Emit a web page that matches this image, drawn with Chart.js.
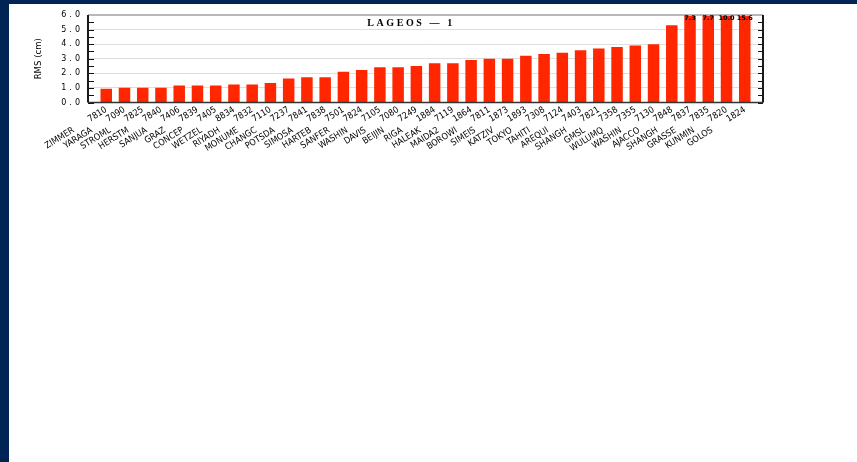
<!DOCTYPE html>
<html><head><meta charset="utf-8">
<script src="https://cdn.jsdelivr.net/npm/chart.js@4/dist/chart.umd.min.js"></script>
<style>
html,body{margin:0;padding:0;background:#002554;width:857px;height:462px;overflow:hidden}
#wrap{position:absolute;left:9px;top:4px;width:848px;height:458px;background:#fff}
canvas{display:block}
</style></head><body>
<div id="wrap"><canvas id="c" width="848" height="458"></canvas></div>
<script>
const stationIds = ['7810','7090','7825','7840','7406','7839','7405','8834','7832','7110',
  '7237','7841','7838','7501','7824','7105','7080','7249','1884','7119',
  '1864','7811','1873','1893','7308','7124','7403','7821','7358','7355',
  '7130','7848','7837','7835','7820','1824'];
const stationNames = ['ZIMMER','YARAGA','STROML','HERSTM','SANJUA','GRAZ','CONCEP','WETZEL','RIYADH','MONUME',
  'CHANGC','POTSDA','SIMOSA','HARTEB','SANFER','WASHIN','DAVIS','BEIJIN','RIGA','HALEAK',
  'MAIDA2','BOROWI','SIMEIS','KATZIV','TOKYO','TAHITI','AREQUI','SHANGH','GMSL','WULUMQ',
  'WASHIN','AJACCO','SHANGH','GRASSE','KUNMIN','GOLOS'];
const rmsValues = [0.95,1.02,1.02,1.02,1.16,1.16,1.16,1.23,1.23,1.34,
  1.64,1.73,1.73,2.11,2.23,2.41,2.41,2.50,2.70,2.70,
  2.91,3.00,3.00,3.20,3.32,3.41,3.59,3.70,3.80,3.91,
  4.00,5.30,7.3,7.7,10.0,15.6];
const yMin = 0, yMax = 6, yStep = 1;
const chartTitle = 'LAGEOS \u2014 1';
const yAxisTitle = 'RMS (cm)';

const NARROW = '"Liberation Sans Narrow","DejaVu Sans Condensed","Arial Narrow",sans-serif';
const GAP = '       ';
const xLabels = [''].concat(stationIds.map((id,i)=>stationNames[i]+GAP+id), ['']);
const yData = [null].concat(rmsValues, [null]);

const framePlugin = {
  id:'frame',
  afterDatasetsDraw(chart){
    const ctx = chart.ctx, a = chart.chartArea, y = chart.scales.y;
    ctx.save();
    ctx.strokeStyle = '#111'; ctx.lineWidth = 1;
    for (let v = yMin; v <= yMax + 1e-9; v += 0.5) {
      const py = Math.round(y.getPixelForValue(v)) + 0.5;
      ctx.beginPath();
      ctx.moveTo(a.left, py); ctx.lineTo(a.left + 6, py);
      ctx.moveTo(a.right, py); ctx.lineTo(a.right - 5, py);
      ctx.stroke();
    }
    ctx.lineWidth = 2;
    ctx.strokeStyle = '#b8b8b8';
    ctx.beginPath(); ctx.moveTo(a.left, a.top); ctx.lineTo(a.right, a.top); ctx.stroke();
    ctx.strokeStyle = '#1a1a1a';
    ctx.beginPath();
    ctx.moveTo(a.left, a.top); ctx.lineTo(a.left, a.bottom);
    ctx.moveTo(a.right, a.top); ctx.lineTo(a.right, a.bottom);
    ctx.stroke();
    ctx.lineWidth = 1.5; ctx.strokeStyle = '#333';
    ctx.beginPath(); ctx.moveTo(a.left, a.bottom); ctx.lineTo(a.right, a.bottom); ctx.stroke();
    ctx.restore();
    ctx.letterSpacing = '3px';
  },
  afterDraw(chart){
    const ctx = chart.ctx, a = chart.chartArea;
    ctx.letterSpacing = '0px';
    ctx.save();
    ctx.letterSpacing = '2.6px';
    ctx.font = 'bold 10px "Liberation Serif","Times New Roman",serif';
    ctx.fillStyle = '#000'; ctx.textAlign = 'center'; ctx.textBaseline = 'middle';
    ctx.fillText(chartTitle, 402, 19.5);
    ctx.letterSpacing = '0px';
    ctx.font = 'bold 6.5px "DejaVu Sans",sans-serif';
    const meta = chart.getDatasetMeta(0);
    meta.data.forEach((el, i) => {
      const v = yData[i];
      if (v != null && v > yMax) ctx.fillText(v.toFixed(1), el.x, a.top + 3.5);
    });
    ctx.restore();
    ctx.letterSpacing = '0px';
  }
};

new Chart(document.getElementById('c'), {
  type:'bar',
  data:{ labels:xLabels, datasets:[{ data:yData, backgroundColor:'#ff2600', borderWidth:0,
    barPercentage:0.63, categoryPercentage:1 }]},
  options:{
    responsive:false, animation:false, devicePixelRatio:1,
    layout:{ padding:{ left:0, top:11, right:94, bottom:0 } },
    plugins:{ legend:{display:false}, tooltip:{enabled:false}, title:{display:false} },
    scales:{
      x:{ offset:false, grid:{display:false}, border:{display:false},
        ticks:{ autoSkip:false, minRotation:32, maxRotation:32, padding:-6, color:'#000',
          font:{ family:NARROW, size:9 } },
        afterFit(s){ s.height = 359.5; } },
      y:{ min:yMin, max:yMax, border:{display:false},
        grid:{ color:'#dedede', drawTicks:false, lineWidth:1 },
        ticks:{ stepSize:yStep, padding:5, color:'#000', z:1,
          font:{ family:'"DejaVu Sans",sans-serif', size:8 },
          callback:(v)=>Number(v).toFixed(1) },
        title:{ display:true, text:yAxisTitle, color:'#000', padding:{top:24, bottom:0},
          font:{ family:NARROW, size:9.5 } },
        afterFit(s){ s.width = 79; } }
    }
  },
  plugins:[framePlugin]
});
</script></body></html>
